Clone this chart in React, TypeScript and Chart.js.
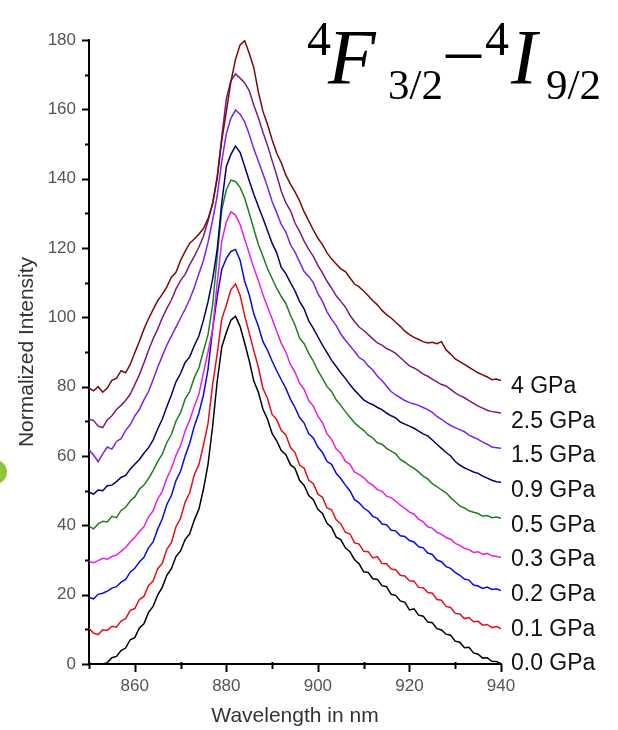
import React, { useEffect, useRef } from 'react';
import { Chart, registerables } from 'chart.js';

Chart.register(...registerables);

// Wavelength grid (nm)
const WAVELENGTHS = [
  850, 851, 852, 853, 854, 855, 856, 857, 858, 859,
  860, 861, 862, 863, 864, 865, 866, 867, 868, 869,
  870, 871, 872, 873, 874, 875, 876, 877, 878, 879,
  880, 881, 882, 883, 884, 885, 886, 887, 888, 889,
  890, 891, 892, 893, 894, 895, 896, 897, 898, 899,
  900, 901, 902, 903, 904, 905, 906, 907, 908, 909,
  910, 911, 912, 913, 914, 915, 916, 917, 918, 919,
  920, 921, 922, 923, 924, 925, 926, 927, 928, 929,
  930, 931, 932, 933, 934, 935, 936, 937, 938, 939,
  940,
];

const GPA_0_0 = [
  0, 0, 0, 0, 0.4, 1.8, 2.2, 3.9, 4.6, 7.0,
  7.6, 10.4, 11.6, 14.9, 16.6, 19.9, 22.1, 25.6, 27.5, 31.0,
  32.6, 35.9, 37.6, 41.5, 44.6, 50.4, 57.6, 68.5, 81.5, 91.4,
  95.6, 99.2, 100.3, 97.4, 92.6, 87.5, 81.6, 78.4, 73.5, 70.6,
  66.5, 64.4, 61.6, 60.4, 57.5, 56.4, 53.0, 51.5, 48.6, 47.4,
  44.6, 43.4, 40.6, 39.4, 36.6, 35.9, 33.5, 32.4, 30.1, 28.9,
  26.6, 26.4, 24.6, 24.4, 22.6, 22.3, 20.1, 19.8, 18.2, 17.8,
  15.6, 15.9, 14.1, 13.8, 12.1, 11.9, 10.2, 9.8, 8.6, 8.3,
  6.6, 6.3, 4.7, 4.8, 3.2, 2.8, 1.7, 1.8, 0.8, 0.7,
  0.1,
];

const GPA_0_1 = [
  10.2, 8.9, 8.5, 9.9, 9.7, 10.9, 10.6, 12.4, 13.1, 15.5,
  16.0, 18.6, 19.5, 22.6, 23.9, 27.5, 29.0, 33.1, 35.0, 39.6,
  42.0, 46.7, 49.4, 54.6, 57.5, 63.1, 69.4, 80.6, 89.4, 99.5,
  103.5, 108.0, 109.6, 106.4, 100.5, 95.5, 90.4, 85.6, 79.5, 76.6,
  72.0, 70.5, 67.4, 66.1, 62.5, 61.0, 57.4, 56.5, 53.0, 52.1,
  49.0, 48.1, 45.0, 44.5, 41.6, 40.4, 38.0, 37.5, 35.0, 34.6,
  32.5, 32.4, 30.6, 31.0, 29.0, 28.9, 27.4, 27.2, 25.6, 25.4,
  24.0, 23.9, 22.1, 22.0, 20.6, 20.4, 18.6, 18.4, 16.6, 16.3,
  14.6, 14.4, 13.1, 13.4, 12.2, 12.3, 11.2, 11.4, 10.5, 10.8,
  10.2,
];

const GPA_0_2 = [
  19.2, 18.8, 20.1, 20.4, 21.0, 21.9, 22.3, 23.6, 24.4, 26.5,
  27.6, 29.4, 30.8, 33.5, 35.2, 38.9, 41.8, 46.0, 48.6, 52.9,
  55.6, 60.0, 63.7, 68.6, 72.4, 77.6, 85.0, 96.5, 106.0, 113.8,
  117.0, 119.0, 119.6, 116.5, 110.4, 106.5, 101.0, 97.4, 93.0, 90.5,
  87.4, 84.6, 82.0, 79.5, 76.4, 74.0, 71.1, 69.5, 66.4, 65.2,
  62.6, 61.0, 58.4, 57.6, 55.0, 53.5, 51.6, 50.0, 47.4, 46.5,
  45.0, 44.1, 42.6, 42.0, 40.4, 40.2, 38.6, 38.4, 37.0, 36.8,
  35.6, 35.2, 33.8, 33.5, 32.0, 31.6, 30.0, 29.5, 28.1, 27.6,
  26.4, 25.6, 24.5, 24.2, 22.8, 22.5, 21.8, 22.2, 21.5, 21.7,
  21.2,
];

const GPA_0_3 = [
  29.6, 29.2, 29.8, 30.5, 30.2, 31.0, 31.4, 32.5, 33.6, 35.2,
  36.5, 38.2, 39.6, 42.4, 44.2, 47.6, 49.8, 53.6, 56.4, 60.2,
  63.0, 67.2, 70.4, 74.3, 77.8, 84.0, 90.0, 96.5, 110.0, 122.0,
  127.5, 130.4, 129.5, 126.8, 122.6, 118.5, 114.2, 110.6, 106.5, 103.0,
  99.6, 96.0, 92.5, 90.0, 86.4, 84.2, 81.0, 79.2, 76.0, 74.4,
  71.5, 69.6, 66.4, 64.8, 62.0, 60.9, 58.5, 57.6, 55.4, 54.6,
  53.8, 52.4, 51.6, 50.3, 49.8, 48.4, 48.0, 47.0, 45.8, 44.9,
  43.8, 43.2, 41.8, 41.0, 39.6, 39.2, 38.0, 37.4, 36.5, 36.0,
  34.8, 34.2, 33.4, 33.0, 32.2, 32.4, 31.6, 31.9, 31.2, 31.0,
  30.8,
];

const GPA_0_5 = [
  39.8, 39.0, 40.4, 41.2, 41.0, 42.6, 42.2, 44.3, 45.2, 47.0,
  48.2, 50.4, 51.6, 53.5, 55.8, 58.4, 60.5, 63.9, 66.2, 70.1,
  72.5, 76.4, 78.6, 82.6, 85.4, 90.3, 95.0, 103.5, 117.6, 131.0,
  136.8, 139.6, 139.2, 137.5, 134.4, 130.0, 125.5, 121.0, 117.6, 114.0,
  111.2, 108.4, 106.0, 104.0, 100.6, 97.8, 94.0, 92.4, 89.6, 87.4,
  84.6, 82.4, 80.0, 78.6, 76.2, 74.6, 72.8, 71.2, 69.6, 68.4,
  67.4, 66.0, 65.2, 63.8, 63.4, 62.2, 61.4, 60.6, 59.0, 58.2,
  57.2, 56.4, 55.4, 54.2, 53.4, 52.0, 51.2, 50.2, 49.4, 48.0,
  46.8, 45.6, 45.0, 44.2, 43.8, 43.4, 42.6, 42.8, 42.2, 42.4,
  42.0,
];

const GPA_0_9 = [
  49.6, 49.0, 50.2, 50.0, 51.4, 51.6, 52.6, 53.8, 54.4, 56.2,
  57.6, 59.0, 60.8, 62.4, 64.6, 67.8, 70.6, 74.2, 77.6, 81.4,
  83.8, 87.0, 88.6, 91.8, 94.6, 99.2, 104.5, 111.0, 119.5, 133.0,
  143.5, 147.0, 149.4, 147.6, 143.6, 139.4, 135.5, 132.0, 128.6, 125.0,
  121.4, 118.6, 114.4, 112.6, 110.0, 107.6, 104.6, 102.4, 99.0, 96.8,
  94.4, 92.0, 89.8, 87.6, 85.8, 84.0, 82.4, 80.6, 79.0, 77.6,
  76.2, 75.4, 74.8, 74.0, 73.4, 72.4, 71.6, 71.0, 69.8, 69.2,
  68.6, 68.0, 67.2, 66.4, 65.8, 64.6, 63.4, 62.2, 61.0, 60.0,
  58.4, 57.4, 56.6, 56.0, 55.4, 55.0, 54.2, 53.6, 53.0, 52.6,
  52.4,
];

const GPA_1_5 = [
  61.8, 60.2, 58.4, 60.6, 62.6, 62.0, 64.2, 65.0, 67.4, 69.0,
  71.6, 73.4, 76.2, 78.6, 82.0, 85.6, 88.8, 92.0, 94.6, 97.2,
  99.8, 102.4, 105.2, 108.6, 112.6, 116.4, 121.6, 128.0, 135.0, 145.0,
  153.0, 157.4, 159.8, 158.6, 156.4, 152.8, 148.6, 145.0, 141.4, 137.6,
  133.4, 130.2, 126.8, 124.6, 121.0, 118.8, 116.0, 113.2, 111.8, 110.0,
  106.8, 104.6, 101.6, 99.4, 97.6, 95.2, 93.4, 91.8, 90.2, 88.4,
  87.6, 86.0, 84.8, 83.0, 81.8, 80.2, 78.6, 77.6, 76.8, 76.0,
  75.4, 75.0, 74.6, 74.0, 73.4, 72.6, 71.4, 70.6, 69.6, 68.8,
  68.2, 67.6, 67.0, 66.0, 65.4, 64.8, 64.0, 63.4, 62.6, 62.4,
  62.2,
];

const GPA_2_5 = [
  70.6, 70.2, 68.6, 68.2, 70.4, 71.6, 73.4, 74.6, 76.0, 77.8,
  80.6, 83.4, 86.8, 90.4, 93.8, 96.6, 99.8, 102.6, 105.0, 108.2,
  110.6, 112.4, 115.2, 117.6, 120.2, 123.4, 127.8, 133.0, 140.6, 152.0,
  163.0, 168.2, 170.2, 169.0, 167.6, 165.4, 161.2, 157.6, 153.4, 149.6,
  145.2, 141.0, 136.4, 133.0, 130.8, 127.2, 124.8, 122.0, 119.6, 117.6,
  115.0, 112.8, 110.4, 108.4, 106.2, 104.6, 103.0, 100.6, 98.8, 97.2,
  96.2, 95.0, 93.8, 92.6, 92.0, 91.0, 90.4, 89.6, 88.4, 87.2,
  86.0, 85.4, 84.6, 83.6, 83.0, 82.2, 81.4, 80.6, 80.2, 79.2,
  78.2, 77.4, 76.8, 76.0, 75.2, 74.4, 73.8, 73.2, 72.8, 72.6,
  72.4,
];

const GPA_4_0 = [
  79.6, 78.8, 80.0, 78.4, 79.6, 81.8, 82.4, 84.6, 84.0, 86.4,
  89.8, 93.0, 96.6, 99.6, 102.2, 104.8, 106.6, 108.8, 111.6, 113.0,
  116.4, 119.0, 121.4, 122.6, 124.0, 125.6, 128.4, 132.6, 140.0, 151.0,
  159.4, 168.0, 174.4, 178.6, 179.8, 176.2, 172.0, 165.0, 159.4, 155.6,
  151.2, 147.4, 144.6, 141.0, 138.4, 136.2, 133.6, 130.4, 127.8, 125.2,
  122.8, 121.0, 118.6, 116.8, 115.4, 114.0, 113.2, 111.4, 109.6, 108.8,
  107.6, 106.2, 104.8, 103.6, 102.0, 100.8, 99.8, 98.6, 97.4, 96.0,
  95.0, 94.2, 93.6, 93.0, 92.6, 92.8, 92.4, 93.0, 90.6, 89.4,
  88.0, 87.2, 86.4, 85.6, 84.8, 84.0, 83.4, 82.8, 82.0, 82.2,
  81.8,
];

const SERIES = [GPA_0_0, GPA_0_1, GPA_0_2, GPA_0_3, GPA_0_5, GPA_0_9, GPA_1_5, GPA_2_5, GPA_4_0];
const PRESSURE_LABELS = ['0.0 GPa', '0.1 GPa', '0.2 GPa', '0.3 GPa', '0.5 GPa', '0.9 GPa', '1.5 GPa', '2.5 GPa', '4 GPa'];
const LABEL_ANCHORS = [0, 10, 20, 30, 40, 50, 60, 70, 80];
const COLORS = ['#000000', '#e3101a', '#0a0ae6', '#e620e6', '#1f7d1f', '#000070', '#7a22f0', '#7d1a7d', '#780a0a'];

const X_TICKS = [860, 880, 900, 920, 940];
const X_MINOR_TICKS = [850, 870, 890, 910, 930];
const Y_TICKS = [0, 20, 40, 60, 80, 100, 120, 140, 160, 180];
const Y_MINOR_TICKS = [10, 30, 50, 70, 90, 110, 130, 150, 170];

const SANS = '"Liberation Sans", Arial, sans-serif';
const SERIF = '"Liberation Serif", "DejaVu Serif", serif';

const decorPlugin = {
  id: 'decor',
  afterDraw(chart: any) {
    const { ctx, chartArea: ca, scales } = chart;
    const x = scales.x;
    const y = scales.y;
    ctx.save();
    ctx.strokeStyle = '#000';
    ctx.lineWidth = 2;
    ctx.beginPath();
    Y_TICKS.forEach((v) => {
      const py = Math.round(y.getPixelForValue(v)) + 0.5;
      ctx.moveTo(ca.left - 7, py);
      ctx.lineTo(ca.left, py);
    });
    Y_MINOR_TICKS.forEach((v) => {
      const py = Math.round(y.getPixelForValue(v)) + 0.5;
      ctx.moveTo(ca.left - 4, py);
      ctx.lineTo(ca.left, py);
    });
    X_TICKS.forEach((v) => {
      const px = Math.round(x.getPixelForValue(v)) + 0.5;
      ctx.moveTo(px, ca.bottom);
      ctx.lineTo(px, ca.bottom + 8);
    });
    X_MINOR_TICKS.forEach((v) => {
      const px = Math.round(x.getPixelForValue(v)) + 0.5;
      ctx.moveTo(px, ca.bottom - 2);
      ctx.lineTo(px, ca.bottom + 5);
    });
    ctx.stroke();

    // pressure labels at each curve's baseline
    ctx.fillStyle = '#111';
    ctx.font = `23px ${SANS}`;
    ctx.textAlign = 'left';
    ctx.textBaseline = 'middle';
    PRESSURE_LABELS.forEach((t, i) => {
      ctx.fillText(t, ca.right + 10, y.getPixelForValue(LABEL_ANCHORS[i]));
    });

    // title: 4F3/2 - 4I9/2
    ctx.fillStyle = '#000';
    ctx.textBaseline = 'alphabetic';
    ctx.font = `48px ${SERIF}`;
    ctx.fillText('4', 307, 55);
    ctx.font = `italic 78px ${SERIF}`;
    ctx.fillText('F', 328, 83);
    ctx.font = `43px ${SERIF}`;
    ctx.fillText('3/2', 388, 99);
    ctx.font = `70px ${SERIF}`;
    ctx.fillText('\u2013', 446, 73);
    ctx.font = `48px ${SERIF}`;
    ctx.fillText('4', 485, 55);
    ctx.font = `italic 78px ${SERIF}`;
    ctx.fillText('I', 511, 83);
    ctx.font = `43px ${SERIF}`;
    ctx.fillText('9/2', 546, 99);

    // green marker at left edge
    ctx.fillStyle = '#8cc63e';
    ctx.beginPath();
    ctx.arc(-5, 472, 12, 0, Math.PI * 2);
    ctx.fill();
    ctx.restore();
  },
};

export default function App() {
  const ref = useRef<HTMLCanvasElement>(null);
  useEffect(() => {
    const canvas = ref.current;
    if (!canvas) return;
    const datasets = SERIES.map((s, i) => ({
      label: PRESSURE_LABELS[i],
      data: s.map((v, j) => ({ x: WAVELENGTHS[j], y: v })),
      borderColor: COLORS[i],
      backgroundColor: COLORS[i],
      borderWidth: 1.5,
      pointRadius: 0,
      tension: 0,
      fill: false,
    })).reverse();

    const chart = new Chart(canvas, {
      type: 'line',
      data: { datasets },
      options: {
        animation: false,
        responsive: false,
        maintainAspectRatio: false,
        layout: { padding: { top: 40, right: 117, left: 0, bottom: 0 } },
        plugins: {
          legend: { display: false },
          tooltip: { enabled: false },
        },
        scales: {
          x: {
            type: 'linear',
            min: 850,
            max: 940,
            afterFit: (s: any) => { s.height = 66; },
            afterBuildTicks: (s: any) => { s.ticks = X_TICKS.map((v) => ({ value: v })); },
            grid: { display: false, drawTicks: false },
            border: { display: true, color: '#000', width: 2 },
            ticks: {
              padding: 12,
              color: '#555',
              font: { family: SANS, size: 17 },
              maxRotation: 0,
              autoSkip: false,
              callback: (v: any) => String(v),
            },
            title: {
              display: true,
              text: 'Wavelength in nm',
              color: '#333',
              font: { family: SANS, size: 21 },
              padding: { top: 0, bottom: 1 },
            },
          },
          y: {
            type: 'linear',
            min: 0,
            max: 180,
            afterFit: (s: any) => { s.width = 89; },
            afterBuildTicks: (s: any) => { s.ticks = Y_TICKS.map((v) => ({ value: v })); },
            grid: { display: false, drawTicks: false },
            border: { display: true, color: '#000', width: 2 },
            ticks: {
              padding: 13,
              color: '#555',
              font: { family: SANS, size: 17 },
              autoSkip: false,
              callback: (v: any) => String(v),
            },
            title: {
              display: true,
              text: 'Normalized Intensity',
              color: '#333',
              font: { family: SANS, size: 21 },
              padding: { top: 15, bottom: 0 },
            },
          },
        },
      },
      plugins: [decorPlugin],
    } as any);
    return () => chart.destroy();
  }, []);

  return (
    <div style={{ position: 'absolute', left: 0, top: 0, width: 618, height: 730, background: '#fff', overflow: 'hidden' }}>
      <canvas ref={ref} width={618} height={730} style={{ display: 'block', width: 618, height: 730 }} />
    </div>
  );
}
